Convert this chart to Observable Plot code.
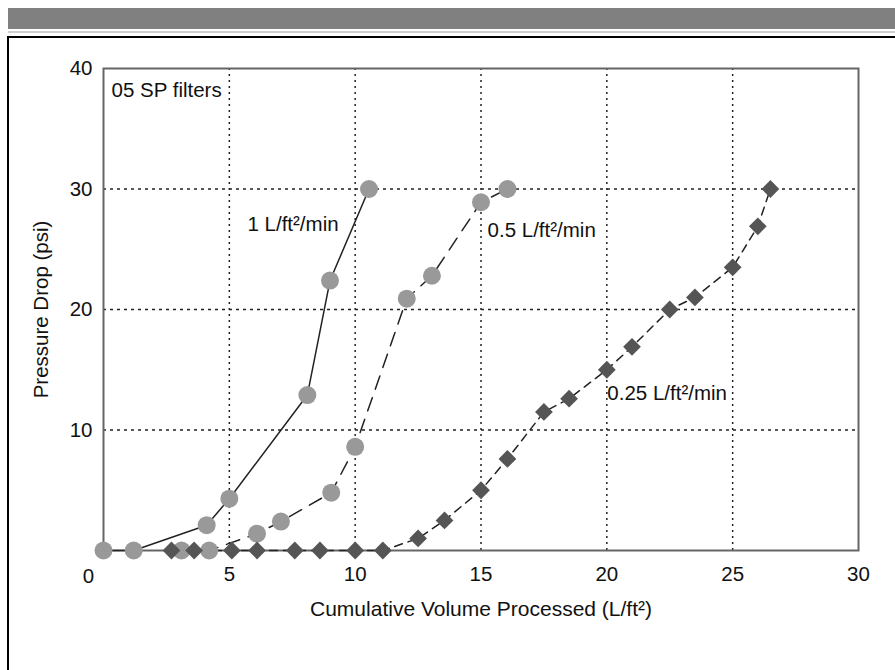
<!DOCTYPE html>
<html>
<head>
<meta charset="utf-8">
<script src="https://cdn.jsdelivr.net/npm/d3@7"></script>
<script src="https://cdn.jsdelivr.net/npm/@observablehq/plot@0.6"></script>
<style>
  html, body { margin: 0; padding: 0; background: #fff; }
  #wrap { position: relative; width: 895px; height: 670px; overflow: hidden; background: #fff; }
  #bar { position: absolute; left: 8px; top: 8px; width: 900px; height: 21px; background: #808080; z-index: 2; }
  #barline { position: absolute; left: 8px; top: 31px; width: 900px; height: 2px; background: #d0d0d0; z-index: 2; }
  #frame { position: absolute; left: 7px; top: 36px; width: 1000px; height: 1000px; border: 2px solid #000; box-sizing: border-box; z-index: 2; pointer-events: none; }
  #chart { position: absolute; left: 0; top: 0; z-index: 1; }
</style>
</head>
<body>
<div id="wrap">
  <div id="chart"></div>
  <div id="bar"></div>
  <div id="barline"></div>
  <div id="frame"></div>
</div>
<script>
// Series: 1 L/ft²/min (circles, solid line)
const volume1 = [0, 1.2, 4.1, 5.0, 8.1, 9.0, 10.55];
const pressure1 = [0, 0, 2.1, 4.3, 12.9, 22.4, 30.0];
// Series: 0.5 L/ft²/min (circles, long dashes)
const volume05 = [3.1, 4.2, 6.1, 7.05, 9.05, 10.0, 12.05, 13.05, 15.0, 16.05];
const pressure05 = [0, 0, 1.4, 2.4, 4.8, 8.6, 20.9, 22.8, 28.9, 30.0];
// Series: 0.25 L/ft²/min (diamonds, short dashes)
const volume025 = [2.7, 3.6, 5.1, 6.1, 7.6, 8.6, 10.0, 11.1, 12.5, 13.55, 15.0, 16.05, 17.5, 18.5, 20.0, 21.0, 22.5, 23.5, 25.0, 26.0, 26.5];
const pressure025 = [0, 0, 0, 0, 0, 0, 0, 0, 1.0, 2.5, 5.0, 7.6, 11.5, 12.6, 15.0, 16.9, 20.0, 21.0, 23.5, 26.9, 30.0];

const xTicks = [5, 10, 15, 20, 25, 30];
const yTicks = [10, 20, 30, 40];
const xGrid = [5, 10, 15, 20, 25];
const yGrid = [10, 20, 30];

const annotations = [
  {label: "05 SP filters", x: 0.32, y: 38.2},
  {label: "1 L/ft²/min", x: 5.72, y: 27.1},
  {label: "0.5 L/ft²/min", x: 15.26, y: 26.55},
  {label: "0.25 L/ft²/min", x: 20.02, y: 13.03}
];

const toRows = (xs, ys) => xs.map((x, i) => ({x, y: ys[i]}));
const s1 = toRows(volume1, pressure1);
const s05 = toRows(volume05, pressure05);
const s025 = toRows(volume025, pressure025);

const chart = Plot.plot({
  width: 895,
  height: 670,
  marginLeft: 103,
  marginRight: 37,
  marginTop: 68,
  marginBottom: 120,
  style: {fontFamily: "'Liberation Sans', Arial, sans-serif", fontSize: "20.5px", background: "transparent", color: "#111"},
  x: {domain: [0, 30], ticks: xTicks, tickSize: 0, tickPadding: 16, label: null},
  y: {domain: [0, 40], ticks: yTicks, tickSize: 0, tickPadding: 11, label: null},
  marks: [
    Plot.ruleX(xGrid, {stroke: "#222", strokeWidth: 1.5, strokeDasharray: "2,4"}),
    Plot.ruleY(yGrid, {stroke: "#222", strokeWidth: 1.5, strokeDasharray: "3,4"}),
    Plot.frame({stroke: "#666", strokeWidth: 2}),
    Plot.line(s1, {x: "x", y: "y", stroke: "#222", strokeWidth: 1.5}),
    Plot.line(s05, {x: "x", y: "y", stroke: "#222", strokeWidth: 1.5, strokeDasharray: "14,9"}),
    Plot.line(s025, {x: "x", y: "y", stroke: "#222", strokeWidth: 1.5, strokeDasharray: "8,6"}),
    Plot.dot(s05, {x: "x", y: "y", r: 9, fill: "#999", stroke: "none"}),
    Plot.dot(s025, {x: "x", y: "y", r: 8, symbol: "diamond2", fill: "#555", stroke: "none"}),
    Plot.dot(s1, {x: "x", y: "y", r: 9, fill: "#999", stroke: "none"}),
    Plot.text(annotations, {x: "x", y: "y", text: "label", textAnchor: "start", fontSize: 20.5, fill: "#111"}),
    Plot.text([{v: 0}], {x: "v", y: "v", text: () => "0", dx: -15, dy: 26, fontSize: 20.5, fill: "#111"}),
    Plot.text(["Cumulative Volume Processed (L/ft²)"], {frameAnchor: "bottom", lineAnchor: "middle", textAnchor: "middle", dy: 59, fontSize: 21, fill: "#111"}),
    Plot.text(["Pressure Drop (psi)"], {frameAnchor: "left", textAnchor: "middle", lineAnchor: "middle", rotate: -90, dx: -62, fontSize: 20.5, fill: "#111"})
  ]
});
document.getElementById("chart").appendChild(chart);
</script>
</body>
</html>
